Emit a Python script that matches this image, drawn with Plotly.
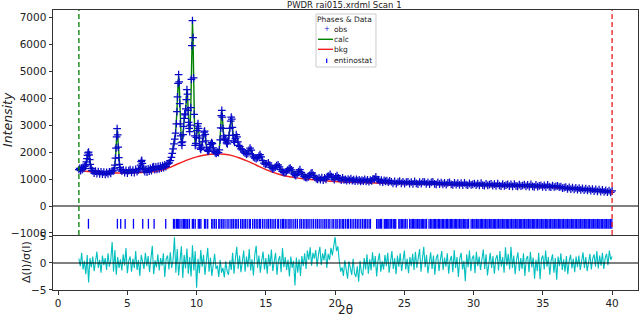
import plotly.graph_objects as go

# ---------------- data ----------------
# observed pattern (2theta, counts), split in segments
tt1 = [1.50, 1.56, 1.62, 1.68, 1.74, 1.80, 1.86, 1.92, 1.98,
       2.04, 2.08, 2.12, 2.16, 2.20, 2.24, 2.28, 2.32, 2.38, 2.44,
       2.5, 2.6, 2.7, 2.8, 2.9, 3.0, 3.1, 3.2, 3.3, 3.4, 3.5, 3.6, 3.7, 3.8, 3.9]
obs1 = [1350, 1400, 1310, 1410, 1350, 1440, 1390, 1470, 1520,
        1640, 1760, 1880, 1970, 2000, 1900, 1720, 1540, 1400, 1320,
        1300, 1220, 1290, 1200, 1280, 1190, 1270, 1180, 1260, 1170, 1250, 1190, 1270, 1210, 1300]

tt2 = [4.00, 4.06, 4.10, 4.14, 4.18, 4.22, 4.26, 4.30, 4.34, 4.38,
       4.42, 4.46, 4.52, 4.60, 4.70, 4.80, 4.90, 5.00, 5.10, 5.20,
       5.30, 5.40, 5.50, 5.60, 5.70, 5.80, 5.90]
obs2 = [1300, 1380, 1520, 1780, 2150, 2560, 2870, 2640, 2180, 1790,
        1540, 1420, 1340, 1290, 1340, 1240, 1320, 1220, 1310, 1350,
        1250, 1330, 1240, 1360, 1270, 1340, 1400]

tt3 = [5.96, 6.00, 6.04, 6.08, 6.12, 6.18, 6.26, 6.34, 6.42, 6.50,
       6.58, 6.66, 6.74, 6.82, 6.90, 6.98, 7.06, 7.14, 7.22, 7.30,
       7.38, 7.46, 7.54, 7.62, 7.70, 7.78, 7.86, 7.94]
obs3 = [1520, 1650, 1690, 1580, 1440, 1350, 1270, 1360, 1260, 1380,
        1290, 1400, 1310, 1430, 1460, 1350, 1450, 1360, 1470, 1380,
        1480, 1400, 1500, 1420, 1530, 1460, 1560, 1570]

tt4 = [8.02, 8.10, 8.18, 8.24, 8.30, 8.36, 8.42, 8.48, 8.54, 8.58,
       8.62, 8.66, 8.70, 8.74, 8.78, 8.82, 8.86, 8.90, 8.94, 8.98,
       9.02, 9.06, 9.10, 9.14, 9.18, 9.22, 9.26, 9.30, 9.34, 9.38,
       9.42, 9.46, 9.50, 9.54, 9.58, 9.62, 9.66, 9.70, 9.74, 9.78,
       9.82, 9.86, 9.90, 9.94, 9.98]
obs4 = [1600, 1680, 1800, 1950, 2120, 2300, 2480, 2700, 3050, 3500,
        4050, 4550, 4870, 4600, 3800, 3050, 2600, 2350, 2250, 2380,
        2650, 2950, 3250, 3420, 3380, 3600, 3950, 4320, 4150, 3550,
        3100, 2880, 2760, 3000, 3650, 4700, 5950, 6880, 6250, 4750,
        3400, 2600, 2250, 2320, 2550]

tt5 = [10.02, 10.06, 10.10, 10.14, 10.18, 10.22, 10.26, 10.30, 10.36, 10.42,
       10.48, 10.54, 10.58, 10.62, 10.66, 10.72, 10.78, 10.84, 10.90, 10.96,
       11.02, 11.08, 11.14, 11.20, 11.26, 11.34, 11.42, 11.50, 11.58, 11.64,
       11.70, 11.74, 11.78, 11.82, 11.86, 11.90, 11.94, 11.98, 12.04, 12.10,
       12.16, 12.22, 12.28, 12.34, 12.40, 12.46, 12.50, 12.54, 12.58, 12.62,
       12.68, 12.74, 12.80, 12.86, 12.92, 12.98]
obs5 = [2800, 2960, 3060, 2880, 2520, 2260, 2150, 2100, 2180, 2380,
        2600, 2740, 2780, 2660, 2420, 2160, 2060, 2030, 2080, 2170,
        2290, 2350, 2310, 2160, 2030, 1980, 1950, 2000, 1980, 2080,
        2450, 2900, 3350, 3550, 3300, 2880, 2600, 2460, 2520, 2450,
        2340, 2300, 2420, 2620, 2880, 3150, 3300, 3220, 2920, 2620,
        2420, 2360, 2500, 2650, 2560, 2380]

tt6 = [13.04, 13.12, 13.20, 13.30, 13.40, 13.50, 13.60, 13.70, 13.78, 13.86,
       13.94, 14.02, 14.10, 14.20, 14.30, 14.40, 14.50, 14.58, 14.66, 14.76,
       14.86, 14.96, 15.06, 15.18, 15.28, 15.38, 15.48, 15.58, 15.68, 15.78,
       15.88, 15.98, 16.08, 16.18, 16.28, 16.38, 16.48, 16.58, 16.68, 16.76,
       16.86, 16.96, 17.06, 17.16, 17.26, 17.36, 17.46, 17.56, 17.66, 17.76,
       17.86, 17.96, 18.06, 18.16, 18.26, 18.34, 18.44, 18.54, 18.64, 18.74,
       18.84, 18.94, 19.04, 19.14, 19.24, 19.34, 19.44, 19.54, 19.64, 19.74,
       19.84, 19.94]
obs6 = [2250, 2200, 2120, 2080, 2010, 1960, 1920, 1950, 2060, 2150,
        2070, 1900, 1820, 1780, 1760, 1790, 1850, 1910, 1820, 1680,
        1590, 1540, 1560, 1600, 1520, 1430, 1380, 1390, 1440, 1500,
        1530, 1450, 1350, 1280, 1250, 1240, 1270, 1330, 1390, 1410,
        1340, 1220, 1160, 1130, 1190, 1280, 1350, 1250, 1160, 1090,
        1060, 1050, 1080, 1140, 1210, 1230, 1140, 1060, 1010, 990,
        1040, 980, 1050, 960, 1040, 990, 1090, 1110, 1170, 1090,
        1050, 980]

tt7 = [20.04, 20.14, 20.24, 20.34, 20.44, 20.54, 20.64, 20.74, 20.84, 20.94,
       21.04, 21.14, 21.24, 21.34, 21.44, 21.54, 21.64, 21.74, 21.84, 21.94,
       22.04, 22.14, 22.24, 22.34, 22.44, 22.54, 22.64, 22.74, 22.84, 22.94,
       23.04, 23.14, 23.24, 23.34, 23.44, 23.54, 23.64, 23.74, 23.84, 23.94,
       24.06, 24.18, 24.30, 24.42, 24.54, 24.66, 24.78, 24.90, 25.02, 25.14,
       25.26, 25.38, 25.50, 25.62, 25.74, 25.86, 25.98, 26.10, 26.22, 26.34,
       26.46, 26.58, 26.70, 26.82, 26.94, 27.06, 27.18, 27.30, 27.42, 27.54,
       27.66, 27.78, 27.90, 28.02, 28.14, 28.26, 28.38, 28.50, 28.62, 28.74,
       28.86, 28.98, 29.10, 29.22, 29.34, 29.46, 29.58, 29.70, 29.82, 29.94,
       30.06, 30.18, 30.30, 30.42, 30.54, 30.66, 30.78, 30.90, 31.02, 31.14,
       31.26, 31.38, 31.50, 31.62, 31.74, 31.86, 31.98, 32.10, 32.22, 32.34,
       32.46, 32.58, 32.70, 32.82, 32.94, 33.06, 33.18, 33.30, 33.42, 33.54,
       33.66, 33.78, 33.90, 34.02, 34.14, 34.26, 34.38, 34.50, 34.62, 34.74,
       34.86, 34.98, 35.10, 35.22, 35.34, 35.46, 35.58, 35.70, 35.82, 35.94,
       36.06, 36.18, 36.30, 36.42, 36.54, 36.66, 36.78, 36.90, 37.02, 37.14,
       37.26, 37.38, 37.50, 37.62, 37.74, 37.86, 37.98, 38.10, 38.22, 38.34,
       38.46, 38.58, 38.70, 38.82, 38.94, 39.06, 39.18, 39.30, 39.42, 39.54,
       39.66, 39.78, 39.90, 40.00]
obs7 = [1080, 1130, 1040, 1020, 960, 1040, 970, 990, 940, 1000,
        950, 1020, 940, 980, 920, 990, 930, 970, 910, 960,
        920, 990, 910, 970, 900, 960, 930, 1010, 1000, 1080,
        980, 970, 900, 960, 880, 950, 910, 940, 880, 930,
        900, 840, 910, 830, 890, 920, 840, 900, 830, 890,
        900, 830, 890, 820, 910, 840, 810, 890, 830, 900,
        890, 820, 880, 810, 875, 900, 820, 805, 880, 815,
        870, 800, 860, 790, 855, 880, 800, 785, 860, 795,
        850, 785, 845, 775, 860, 790, 770, 840, 780, 800,
        835, 770, 830, 760, 845, 775, 755, 825, 765, 790,
        820, 755, 815, 745, 830, 760, 740, 810, 750, 775,
        805, 740, 800, 730, 815, 745, 725, 795, 735, 760,
        790, 725, 785, 715, 800, 730, 710, 780, 720, 745,
        770, 710, 765, 700, 780, 715, 695, 760, 705, 725,
        750, 700, 715, 660, 685, 700, 635, 690, 625, 680,
        620, 675, 605, 665, 595, 655, 585, 645, 580, 635,
        570, 625, 555, 615, 545, 605, 535, 595, 525, 580,
        515, 570, 505, 560]

# calculated pattern
calc_x = [1.50, 1.70, 1.90, 1.98, 2.04, 2.08, 2.12, 2.16, 2.20, 2.24,
          2.28, 2.32, 2.38, 2.44, 2.6, 3.0, 3.4, 3.8, 4.00, 4.06,
          4.10, 4.14, 4.18, 4.22, 4.26, 4.30, 4.34, 4.38, 4.42, 4.46,
          4.52, 4.8, 5.2, 5.6, 5.90, 5.96, 6.00, 6.04, 6.08, 6.12,
          6.18, 6.4, 6.8, 7.2, 7.6, 7.94] + tt4 + tt5 + [
          13.04, 13.20, 13.40, 13.60, 13.86, 14.10, 14.30, 14.58, 14.86, 15.06,
          15.18, 15.48, 15.68, 15.88, 16.28, 16.48, 16.76, 17.16, 17.46, 17.86,
          18.06, 18.34, 18.74, 19.24, 19.64, 19.94, 20.14, 20.6, 21.5, 22.5,
          22.94, 23.5, 25, 27, 29, 31, 33, 35, 36, 36.6, 38, 40]
calc = [1340, 1370, 1430, 1500, 1620, 1750, 1870, 1950, 1980, 1890,
        1710, 1540, 1410, 1330, 1270, 1240, 1220, 1240, 1300, 1370,
        1510, 1770, 2130, 2540, 2830, 2620, 2170, 1780, 1530, 1410,
        1340, 1280, 1290, 1300, 1390, 1510, 1630, 1670, 1570, 1440,
        1350, 1320, 1370, 1410, 1460, 1550,
        1600, 1690, 1810, 1960, 2110, 2290, 2470, 2720, 3080, 3520,
        4080, 4580, 4820, 4560, 3780, 3030, 2580, 2330, 2260, 2390,
        2660, 2960, 3240, 3400, 3390, 3610, 3970, 4290, 4120, 3540,
        3090, 2870, 2780, 3020, 3680, 4720, 5970, 6820, 6220, 4720,
        3380, 2590, 2260, 2330, 2560,
        2790, 2950, 3040, 2870, 2510, 2250, 2150, 2110, 2190, 2390,
        2610, 2750, 2770, 2650, 2410, 2160, 2070, 2040, 2090, 2180,
        2290, 2340, 2300, 2160, 2040, 1990, 1970, 1990, 2000, 2090,
        2460, 2890, 3330, 3520, 3290, 2870, 2590, 2450, 2510, 2440,
        2340, 2310, 2430, 2630, 2890, 3140, 3280, 3200, 2910, 2610,
        2410, 2370, 2510, 2640, 2550, 2380,
        2240, 2110, 2000, 1910, 2130, 1810, 1750, 1890, 1590, 1550,
        1590, 1380, 1440, 1520, 1250, 1270, 1400, 1140, 1330, 1060,
        1080, 1220, 990, 1010, 1160, 1000, 1090, 980, 950, 930,
        1040, 920, 860, 840, 810, 790, 760, 730, 720, 670, 600, 530]

# background
bkg_x = [1.5, 2, 3, 4, 5, 6, 7, 7.5, 8, 8.5, 9, 9.5, 10, 10.5, 11, 11.5, 12,
         12.5, 13, 13.5, 14, 14.5, 15, 16, 17, 18, 19, 20, 22, 24, 26, 28,
         30, 32, 34, 35, 36, 37, 38, 39, 40]
bkg = [1330, 1290, 1240, 1225, 1225, 1240, 1280, 1330, 1420, 1530, 1640, 1740,
       1820, 1880, 1920, 1935, 1920, 1880, 1800, 1700, 1590, 1470, 1350, 1170,
       1060, 990, 950, 910, 870, 840, 815, 790, 765, 740, 715, 700, 670, 630,
       590, 545, 495]

# reflection positions (entinostat)
refl = [2.19, 4.28, 4.52, 4.84, 5.44, 6.11, 6.52, 6.93, 7.77, 8.33,
        8.42, 8.55, 8.63, 8.71, 8.80, 8.94, 9.05, 9.12, 9.22, 9.31, 9.36, 9.48,
        9.69, 9.78, 9.90, 10.12, 10.22, 10.31, 10.57, 10.66, 10.80, 11.09, 11.18,
        11.30, 11.42, 11.60, 11.68, 11.81, 11.92, 12.05, 12.20, 12.33, 12.48,
        12.55, 12.66, 12.79, 12.90, 13.02, 13.18, 13.30, 13.42, 13.52, 13.65,
        13.80, 13.88, 14.05, 14.18, 14.30, 14.42, 14.55, 14.60, 14.75, 14.88,
        15.02, 15.15, 15.20, 15.33, 15.45, 15.58, 15.70, 15.86, 15.92, 16.08,
        16.20, 16.28, 16.40, 16.52, 16.66, 16.75, 16.88, 17.02, 17.15, 17.28,
        17.45, 17.56, 17.70, 17.82, 17.95, 18.05, 18.18, 18.32, 18.45, 18.60,
        18.72, 18.85, 18.98, 19.12, 19.25, 19.36, 19.50, 19.62, 19.78, 19.90,
        20.05, 20.15, 20.30, 20.42, 20.55, 20.62, 20.75, 20.88, 20.96, 21.10,
        21.22, 21.35, 21.48, 21.60, 21.72, 21.85, 21.98, 22.10, 22.20, 22.32,
        22.45, 22.55, 23.00, 23.10, 23.18, 23.28, 23.36, 23.55, 23.62, 23.70,
        23.80, 23.88, 23.98, 24.08, 24.20, 24.30, 24.38, 24.60, 24.68, 24.78,
        24.88, 24.98, 25.08, 25.20, 25.38, 25.48, 25.58, 25.66, 25.76, 25.85,
        25.95, 26.05, 26.12, 26.22, 26.32, 26.40, 26.50, 26.60, 26.78, 26.88,
        26.98, 27.08, 27.18, 27.26, 27.36, 27.46, 27.55, 27.65, 27.75, 27.84,
        27.94, 28.04, 28.12, 28.22, 28.32, 28.40, 28.50, 28.60, 28.70, 28.78,
        28.88, 28.98, 29.08, 29.16, 29.26, 29.36, 29.44, 29.54, 29.64, 29.82,
        29.92, 30.02, 30.10, 30.20, 30.30, 30.38, 30.48, 30.58, 30.66, 30.76,
        30.86, 30.96, 31.04, 31.14, 31.24, 31.32, 31.42, 31.52, 31.60, 31.70,
        31.80, 31.90, 31.98, 32.08, 32.18, 32.26, 32.36, 32.46, 32.54, 32.64,
        32.74, 32.84, 32.92, 33.02, 33.12, 33.20, 33.30, 33.40, 33.48, 33.58,
        33.68, 33.78, 33.86, 33.96, 34.06, 34.14, 34.24, 34.34, 34.42, 34.52,
        34.62, 34.72, 34.80, 34.90, 35.00, 35.08, 35.18, 35.28, 35.36, 35.46,
        35.56, 35.66, 35.74, 35.84, 35.94, 36.02, 36.12, 36.22, 36.30, 36.40,
        36.50, 36.60, 36.68, 36.78, 36.88, 36.96, 37.06, 37.16, 37.24, 37.34,
        37.44, 37.54, 37.62, 37.72, 37.82, 37.90, 38.00, 38.10, 38.18, 38.28,
        38.38, 38.48, 38.56, 38.66, 38.76, 38.84, 38.94, 39.04, 39.12, 39.22,
        39.32, 39.42, 39.50, 39.60, 39.70, 39.78, 39.88, 39.98]

# normalised difference, 2theta = 1.5 + 0.1*i
resid_start, resid_step = 1.5, 0.1
resid = [
    0.8, -0.6, 1.9, -1.2, 0.4, -2.1, 1.5, -3.6, 0.9, -0.8,
    1.2, -1.5, 0.3, 2.1, -0.9, 0.6, -1.8, 1.4, -0.4, 0.9,
    -1.3, 1.8, -0.7, 0.5, 3.9, -1.6, 2.4, -2.2, 1.1, -0.9,
    0.7, -1.4, 1.6, -0.5, 2.8, -1.9, 0.4, 1.2, -1.6, 0.8,
    -0.9, 2.2, -1.3, 0.6, -2.4, 1.5, 0.2, -1.1, 1.9, -0.6,
    1.3, -1.7, 0.8, 3.2, -2.1, 0.5, -0.8, 1.6, -1.4, 0.9,
    -0.5, 1.8, -2.6, 0.7, 1.4, -1.2, 2.0, -0.9, 0.6, 4.8,
    -1.8, 2.6, -2.3, 1.2, 3.1, -2.8, 1.5, -1.0, 2.7, -2.0,
    1.1, -2.5, 3.3, -1.4, 2.2, -4.6, 0.8, -1.9, 2.4, -0.7,
    1.5, -2.2, 0.6, 2.8, -1.6, 1.0, -2.4, 0.4, 1.7, -1.1,
    -0.5, -2.6, 0.6, -1.8, -0.9, -2.7, 0.3, -1.5, -2.2, 0.5,
    -1.3, 1.9, -2.0, 0.8, 3.0, -1.1, 1.4, -1.7, 0.9, 2.3,
    -1.6, 1.2, -0.8, 2.6, -1.4, 0.7, -2.3, 1.5, 3.2, -0.9,
    1.4, -1.8, 0.5, 2.1, -1.2, 0.9, -2.0, 1.6, -0.6, 2.5,
    -1.5, 0.8, 1.9, -2.2, 0.4, 1.3, -1.7, 2.8, -0.8, 1.1,
    -1.3, 0.6, -2.5, 1.2, -0.9, 0.4, -4.2, 1.0, -1.8, 0.7,
    -2.4, 1.3, -0.6, 1.8, -1.1, 2.3, 0.6, 2.9, -0.5, 1.9,
    0.8, 2.4, -0.7, 1.6, 3.0, -0.4, 1.8, 0.5, 2.6, -0.9,
    1.7, 0.6, 2.8, 1.4, 3.6, 4.8, 2.2, 3.1, 0.4, -1.6,
    -0.8, -2.4, 0.5, -1.7, -2.9, 0.3, -1.3, -2.2, 0.8, -1.9,
    -2.6, -0.6, -3.5, 0.4, -1.8, -2.3, 0.9, -1.2, 1.6, -2.0,
    0.7, -1.4, 2.0, -0.8, 1.3, -2.5, 0.5, 1.8, -1.6, 0.3,
    -1.2, 1.5, -0.6, 1.9, -1.8, 0.7, 2.2, -1.1, 0.9, -2.1,
    1.4, -0.7, 1.8, -1.5, 0.6, 2.3, -1.2, 0.8, -1.9, 1.1,
    -0.6, 1.7, -1.3, 2.1, -0.9, 0.5, 2.6, -1.6, 1.2, 3.0,
    -0.8, 1.5, -1.9, 0.7, 2.0, -1.1, 1.4, -2.2, 0.9, 1.6,
    -1.5, 0.6, 2.2, -1.3, 1.0, -0.7, 1.8, -2.0, 0.5, 1.3,
    -1.7, 2.4, -0.9, 1.1, -2.6, 0.8, 1.9, -1.2, 0.4, -3.4,
    1.6, -0.8, 2.3, -1.5, 0.9, 1.4, -1.9, 2.1, -0.6, 1.2,
    -1.3, 0.7, 2.5, -1.1, 1.6, -2.3, 0.5, 1.9, -0.9, 1.3,
    -2.0, 0.8, 1.5, -1.4, 2.2, -0.7, 1.1, -1.8, 2.9, -0.5,
    1.7, -1.2, 3.0, -0.9, 1.4, -2.1, 0.6, 2.0, -1.5, 0.9,
    -1.1, 1.8, -2.4, 0.7, 1.3, -1.7, 2.1, -0.8, 1.0, -2.9,
    0.6, -1.5, 1.9, -3.0, 0.8, 1.4, -1.2, 2.3, -0.7, 1.1,
    -2.2, 0.5, 1.6, -1.8, 0.9, -3.1, 1.2, -0.6, 1.8, -1.3,
    0.7, -1.6, 1.3, -2.1, 0.4, 1.5, -1.0, 0.8, -1.7, 1.2,
    -0.8, 1.4, -1.3, 0.9, 2.0, -0.9, 1.1, -1.5, 0.6, 1.7,
    -1.2, 0.8, 1.6, -0.7, 2.2, -1.0, 1.4, -0.5, 1.9, -1.1,
    0.9, 1.7, -0.4, 2.3, 0.6, 1.2]

x_limits = (1.5, 40.0)
tick_level = -660
y_ticks = [-1000, 0, 1000, 2000, 3000, 4000, 5000, 6000, 7000]
x_ticks = [0, 5, 10, 15, 20, 25, 30, 35, 40]
r_ticks = [-5, 0, 5]

# ---------------- figure ----------------
two_theta = tt1 + tt2 + tt3 + tt4 + tt5 + tt6 + tt7
obs = obs1 + obs2 + obs3 + obs4 + obs5 + obs6 + obs7
assert len(two_theta) == len(obs)
assert len(calc_x) == len(calc)
resid_x = [round(resid_start + resid_step * i, 3) for i in range(len(resid))]

FONT = "DejaVu Sans"
INK = "#222"
OBS_BLUE = "#0808c8"
fig = go.Figure()
fig.add_trace(go.Scatter(x=calc_x, y=calc, mode="lines",
                         line=dict(color="#008000", width=1.4), xaxis="x", yaxis="y"))
fig.add_trace(go.Scatter(x=bkg_x, y=bkg, mode="lines", line_shape="spline",
                         line=dict(color="#ee2020", width=1.4), xaxis="x", yaxis="y"))
fig.add_trace(go.Scatter(x=two_theta, y=obs, mode="markers",
                         marker=dict(symbol="cross-thin", size=5.5, color=OBS_BLUE,
                                     line=dict(color=OBS_BLUE, width=1.25)),
                         xaxis="x", yaxis="y"))
fig.add_trace(go.Scatter(x=refl, y=[tick_level] * len(refl), mode="markers",
                         marker=dict(symbol="line-ns", size=7,
                                     line=dict(color="#0000ff", width=1.3)),
                         xaxis="x", yaxis="y"))
fig.add_trace(go.Scatter(x=resid_x, y=resid, mode="lines",
                         line=dict(color="#00bfbf", width=1.1), xaxis="x2", yaxis="y2"))

frame = dict(showline=True, linecolor="#333", linewidth=1, mirror=True,
             showgrid=False, zeroline=False, automargin=False)
ticks = dict(tickfont=dict(family=FONT, size=10.5, color=INK),
             tickcolor="#333", ticklen=3.5, ticks="outside")

fig.update_layout(
    width=640, height=317,
    margin=dict(l=53, r=2, t=10, b=27, autoexpand=False),
    paper_bgcolor="white", plot_bgcolor="white",
    showlegend=False, hovermode=False,
    font=dict(family=FONT, color=INK),
    xaxis=dict(domain=[0, 1], anchor="y", range=[-0.37, 41.87], matches="x2",
               showticklabels=False, ticks="", **frame),
    xaxis2=dict(domain=[0, 1], anchor="y2", range=[-0.37, 41.87],
                tickvals=x_ticks, **frame, **ticks),
    yaxis=dict(domain=[0.1964, 1], anchor="x", range=[-1076, 7270],
               tickvals=y_ticks, **frame, **ticks),
    yaxis2=dict(domain=[0, 0.1929], anchor="x2", range=[-5.02, 5.02],
                tickvals=r_ticks, **frame, **ticks),
)

# zero lines
fig.add_shape(type="line", xref="x domain", yref="y", x0=0, x1=1, y0=0, y1=0,
              line=dict(color="black", width=1.2))
fig.add_shape(type="line", xref="x2 domain", yref="y2", x0=0, x1=1, y0=0, y1=0,
              line=dict(color="black", width=1.2))
# limits
fig.add_shape(type="line", xref="x", yref="y domain", x0=x_limits[0], x1=x_limits[0],
              y0=0, y1=1, line=dict(color="#008000", width=1.3, dash="5px,3px"))
fig.add_shape(type="line", xref="x", yref="y domain", x0=x_limits[1], x1=x_limits[1],
              y0=0, y1=1, line=dict(color="#ee2020", width=1.3, dash="5px,3px"))


def label(text, x, y, size, color=INK, angle=0, xanchor="center"):
    fig.add_annotation(text=text, xref="paper", yref="paper", x=x, y=y,
                       xanchor=xanchor, yanchor="middle", textangle=angle,
                       showarrow=False, borderpad=0,
                       font=dict(family=FONT, size=size, color=color))


# titles
label("PWDR rai015.xrdml Scan 1", 0.4991, 1.0196, 8.5)
label("<i>Intensity</i>", -0.0786, 0.607, 12.5, angle=-90)
label("Δ(I)/σ(I)", -0.0462, 0.1, 11, angle=-90)
label("2θ", 0.5005, -0.0715, 12)

# legend (drawn by hand)
fig.add_shape(type="rect", xref="paper", yref="paper", x0=0.4496, x1=0.5521, y0=0.7964, y1=0.9857,
              line=dict(color="#cccccc", width=1), fillcolor="rgba(255,255,255,0.85)")
label("Phases & Data", 0.4991, 0.9668, 7.5)
legend_rows = [("obs", 0.9311), ("calc", 0.8954), ("bkg", 0.8596), ("entinostat", 0.8189)]
for name, yy in legend_rows:
    label(name, 0.4778, yy, 7.5, xanchor="left")
label("+", 0.4679, 0.9311, 7, color=OBS_BLUE)
fig.add_shape(type="line", xref="paper", yref="paper", x0=0.453, x1=0.4786, y0=0.8954, y1=0.8954,
              line=dict(color="#008000", width=1.4))
fig.add_shape(type="line", xref="paper", yref="paper", x0=0.453, x1=0.4786, y0=0.8596, y1=0.8596,
              line=dict(color="#ee2020", width=1.4))
fig.add_shape(type="line", xref="paper", yref="paper", x0=0.4679, x1=0.4679, y0=0.8110, y1=0.8268,
              line=dict(color="#0000ff", width=1.2))

fig.write_html("out.html", config={"displayModeBar": False, "staticPlot": True},
               post_script="document.body.style.margin='0';")
